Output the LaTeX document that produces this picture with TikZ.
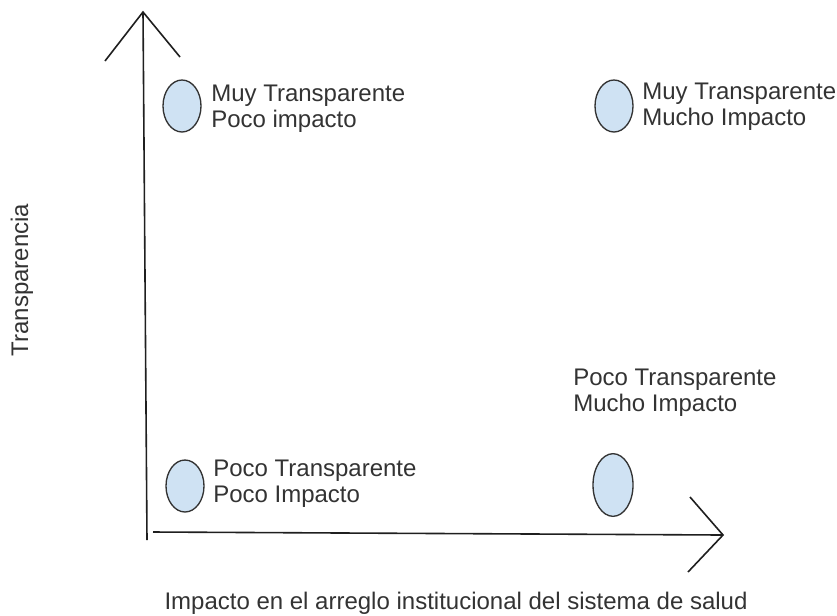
\documentclass[tikz,border=0pt]{standalone}
\usepackage{fontspec}
\setmainfont{Liberation Sans}
\usetikzlibrary{shapes.geometric}
\definecolor{bubblefill}{HTML}{CFE2F3}
\definecolor{ink}{HTML}{333333}

\begin{document}
\begin{tikzpicture}[x=0.75pt, y=-0.75pt,
  axis/.style={draw=black!88, line width=1.2pt},
  bubble/.style={ellipse, draw=ink, fill=bubblefill, line width=1pt, inner sep=0pt,
    minimum width=28.5pt, minimum height=39pt},
  lbl/.style={anchor=west, align=left, inner sep=0pt, text=ink,
    font=\fontsize{18}{19.5}\selectfont}]
\useasboundingbox (0,0) rectangle (837,615);
% ejes
\coordinate (o1) at (147,540);
\coordinate (y1) at (143,12);
\coordinate (y2) at (105,61);
\coordinate (y3) at (180,57);
\coordinate (o2) at (153,532);
\coordinate (x1) at (723,535);
\coordinate (x2) at (690,497);
\coordinate (x3) at (688,572);
\draw[axis] (o1) -- (y1);
\draw[axis] (y2) -- (y1) -- (y3);
\draw[axis] (o2) -- (x1);
\draw[axis] (x2) -- (x1) -- (x3);
% cuadrantes
\node[bubble] (e1) at (182,106) {};
\node[bubble] (e2) at (614,106) {};
\node[bubble] (e3) at (185,486) {};
\node[bubble, minimum width=30pt, minimum height=47pt] (e4) at (613,485) {};
\node[lbl] (t1) at (211,109) {Muy Transparente\\Poco impacto};
\node[lbl] (t2) at (642,107) {Muy Transparente\\Mucho Impacto};
\node[lbl] (t3) at (213,484) {Poco Transparente\\Poco Impacto};
\node[lbl] (t4) at (573,393) {Poco Transparente\\Mucho Impacto};
% titulos
\node[lbl, anchor=center, rotate=90] (ty) at (22,280) {Transparencia};
\node[lbl, anchor=center] (tx) at (456,603) {Impacto en el arreglo institucional del sistema de salud};
\end{tikzpicture}
\end{document}
